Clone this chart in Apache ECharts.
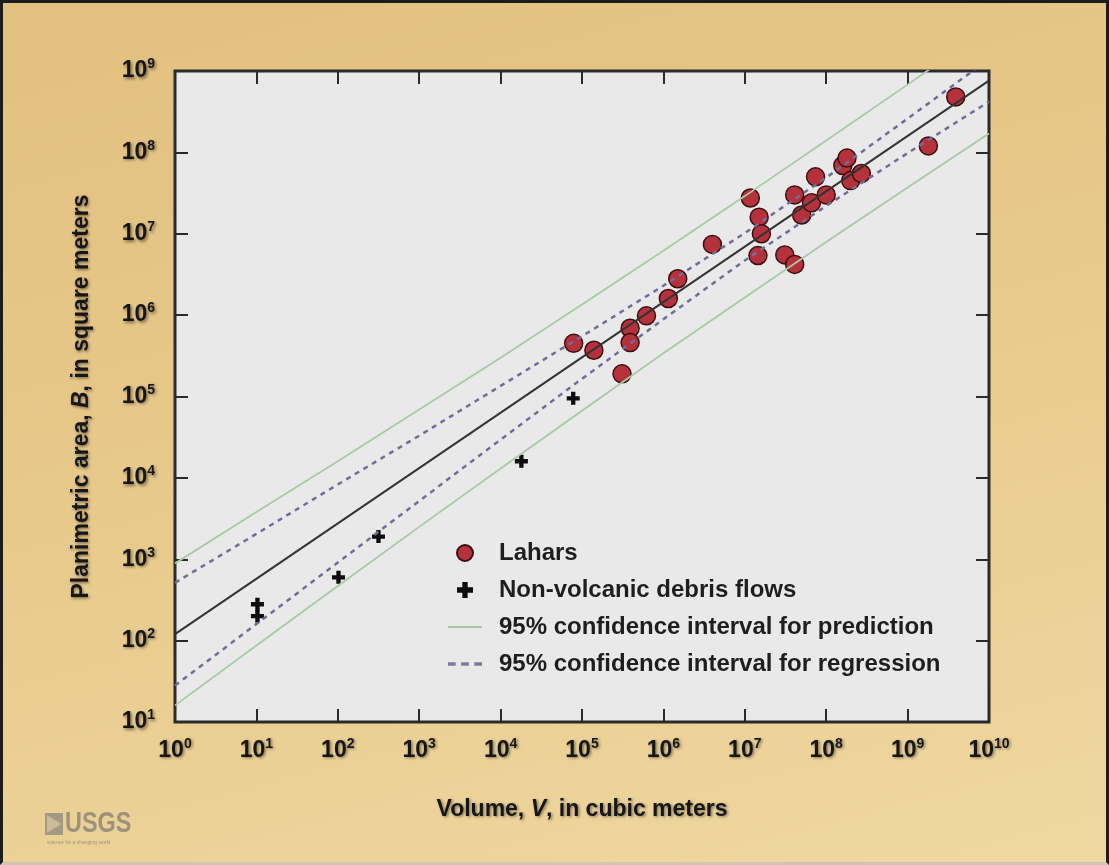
<!DOCTYPE html>
<html>
<head>
<meta charset="utf-8">
<script src="https://cdn.jsdelivr.net/npm/echarts@6/dist/echarts.min.js"></script>
<style>
    html, body { margin: 0; padding: 0; }
    #frame {
        width: 1109px;
        height: 865px;
        box-sizing: border-box;
        border: 3px solid #1c1c1c;
        border-bottom-color: #cfc6b4;
        background: linear-gradient(165deg, #e2c07f 0%, #e7c98b 45%, #f0d8a1 100%);
    }
    #chart { width: 100%; height: 100%; }
</style>
</head>
<body>
<div id="frame"><div id="chart"></div></div>
<script>
// Lahars: [volume V (m3), planimetric area B (m2)]
const lahars = [
    [7.9e4, 4.5e5], [1.4e5, 3.7e5], [3.9e5, 6.9e5], [3.9e5, 4.6e5], [3.1e5, 1.9e5],
    [6.2e5, 9.8e5], [1.15e6, 1.6e6], [1.5e6, 2.8e6], [4.0e6, 7.4e6], [1.17e7, 2.75e7],
    [1.5e7, 1.6e7], [1.6e7, 1.0e7], [1.45e7, 5.4e6], [3.1e7, 5.5e6], [4.1e7, 4.2e6],
    [4.1e7, 3.0e7], [5.0e7, 1.7e7], [6.6e7, 2.4e7], [7.4e7, 5.0e7], [1.0e8, 3.0e7],
    [1.6e8, 6.9e7], [1.8e8, 8.5e7], [2.0e8, 4.5e7], [2.7e8, 5.5e7], [1.8e9, 1.2e8],
    [3.9e9, 4.8e8]
];

// Non-volcanic debris flows
const debrisFlows = [
    [10.3, 280], [10.3, 200], [102, 600], [316, 1900], [1.8e4, 1.6e4], [7.8e4, 9.5e4]
];

// regression line end points
const fitLine = [[1, 120], [1e10, 7.6e8]];

// band curves read at every decade of V
const decades = [1, 1e1, 1e2, 1e3, 1e4, 1e5, 1e6, 1e7, 1e8, 1e9, 1e10];
const predUpper = [890, 3800, 1.6e4, 6.9e4, 3.0e5, 1.35e6, 6.2e6, 2.9e7, 1.4e8, 6.8e8, 3.4e9];
const predLower = [16, 87, 470, 2500, 1.3e4, 6.7e4, 3.4e5, 1.65e6, 7.9e6, 3.7e7, 1.7e8];
const regUpper = [515, 2050, 8300, 3.3e4, 1.35e5, 5.5e5, 2.3e6, 1.02e7, 4.9e7, 2.6e8, 1.4e9];
const regLower = [28, 160, 910, 5200, 2.95e4, 1.65e5, 8.9e5, 4.7e6, 2.2e7, 9.8e7, 4.2e8];

const NAME_PRED = "95% confidence interval for prediction";
const NAME_REG = "95% confidence interval for regression";

const FONT = "'Liberation Sans', Arial, Helvetica, sans-serif";
const shadow = {
    textShadowColor: "rgba(0,0,0,0.45)",
    textShadowBlur: 3,
    textShadowOffsetX: 1.5,
    textShadowOffsetY: 1.5
};

const PLUS = "path://M4,0 H8 V4 H12 V8 H8 V12 H4 V8 H0 V4 H4 Z";

const zip = (xs, ys) => xs.map((x, i) => [x, ys[i]]);

const powLabel = value => "{b|10}{s|" + Math.round(Math.log10(value)) + "}";
const powRich = {
    b: { fontSize: 23, fontWeight: "bold", fontFamily: FONT, color: "#161616", ...shadow },
    s: { fontSize: 14, fontWeight: "bold", fontFamily: FONT, color: "#161616", padding: [0, 0, 13, 0], ...shadow }
};

const nameStyle = {
    fontSize: 23, fontWeight: "bold", fontFamily: FONT, color: "#161616", ...shadow,
    rich: { i: { fontSize: 23, fontWeight: "bold", fontStyle: "italic", fontFamily: FONT, color: "#161616", ...shadow } }
};

const tick = { show: true, inside: true, length: 13, lineStyle: { color: "#2b2b2b", width: 2 } };

const chart = echarts.init(document.getElementById("chart"), null, { renderer: "canvas" });

const option = {
    animation: false,
    grid: {
        left: 172, top: 68, right: 117, bottom: 140,
        show: true,
        backgroundColor: "#e9e9e9",
        borderColor: "#2b2b2b",
        borderWidth: 3
    },
    xAxis: [
        {
            type: "log", logBase: 10, min: 1, max: 1e10, interval: 1,
            axisLine: { show: false },
            axisTick: tick,
            splitLine: { show: false },
            axisLabel: { formatter: powLabel, rich: powRich, margin: 15 },
            name: "Volume, {i|V}, in cubic meters",
            nameLocation: "middle",
            nameGap: 76,
            nameTextStyle: nameStyle
        },
        {
            type: "log", logBase: 10, min: 1, max: 1e10, interval: 1, position: "top",
            axisLine: { show: false }, axisTick: tick, axisLabel: { show: false }, splitLine: { show: false }
        }
    ],
    yAxis: [
        {
            type: "log", logBase: 10, min: 10, max: 1e9, interval: 1,
            axisLine: { show: false },
            axisTick: tick,
            splitLine: { show: false },
            axisLabel: { formatter: powLabel, rich: powRich, margin: 20 },
            name: "Planimetric area, {i|B}, in square meters",
            nameLocation: "middle",
            nameRotate: 90,
            nameGap: 82,
            nameTextStyle: nameStyle
        },
        {
            type: "log", logBase: 10, min: 10, max: 1e9, interval: 1, position: "right",
            axisLine: { show: false }, axisTick: tick, axisLabel: { show: false }, splitLine: { show: false }
        }
    ],
    legend: {
        data: [
            { name: "Lahars", icon: "circle" },
            { name: "Non-volcanic debris flows", icon: PLUS },
            { name: NAME_PRED, icon: "path://M0,0 H32 V2 H0 Z" },
            { name: NAME_REG, icon: "path://M0,0 H7 V3 H0 Z M12,0 H19 V3 H12 Z M24,0 H31 V3 H24 Z" }
        ],
        orient: "vertical",
        left: 440,
        top: 533,
        itemWidth: 34,
        itemHeight: 16,
        itemGap: 13,
        textStyle: { fontSize: 24, fontWeight: "bold", fontFamily: FONT, color: "#1e1e1e", padding: [0, 0, 0, 12] }
    },
    series: [
        {
            name: NAME_PRED, type: "line", data: zip(decades, predUpper),
            symbol: "none", silent: true,
            lineStyle: { color: "#a7cba4", width: 1.8 }, itemStyle: { color: "#a7cba4" }
        },
        {
            name: NAME_PRED, type: "line", data: zip(decades, predLower),
            symbol: "none", silent: true,
            lineStyle: { color: "#a7cba4", width: 1.8 }, itemStyle: { color: "#a7cba4" }
        },
        {
            name: NAME_REG, type: "line", data: zip(decades, regUpper),
            symbol: "none", silent: true,
            lineStyle: { color: "#6e6e9a", width: 2.5, type: [5, 5] }, itemStyle: { color: "#7a7aa0" }
        },
        {
            name: NAME_REG, type: "line", data: zip(decades, regLower),
            symbol: "none", silent: true,
            lineStyle: { color: "#6e6e9a", width: 2.5, type: [5, 5] }, itemStyle: { color: "#7a7aa0" }
        },
        {
            name: "fit", type: "line", data: fitLine,
            symbol: "none", silent: true,
            lineStyle: { color: "#333333", width: 2 }
        },
        {
            name: "Non-volcanic debris flows", type: "scatter", data: debrisFlows,
            symbol: PLUS,
            symbolSize: 13,
            itemStyle: { color: "#0c0c0c", opacity: 1 }
        },
        {
            name: "Lahars", type: "scatter", data: lahars,
            symbol: "circle", symbolSize: 18,
            itemStyle: { color: "#b5323c", borderColor: "#3c0e10", borderWidth: 1.5, opacity: 1 }
        }
    ],
    graphic: [
        {
            type: "group", left: 42, top: 806,
            children: [
                { type: "rect", shape: { x: 0, y: 4, width: 18, height: 22 }, style: { fill: "#a39a84" } },
                { type: "polygon", shape: { points: [[2, 6], [16, 15], [2, 24]] }, style: { fill: "#c8bd98" } },
                {
                    type: "text", x: 20, y: 0, scaleX: 0.78,
                    style: { text: "USGS", fontSize: 30, fontWeight: "bold", fontFamily: FONT, fill: "#9d937c" }
                },
                {
                    type: "text", x: 2, y: 31,
                    style: { text: "science for a changing world", fontSize: 5, fontFamily: FONT, fill: "#9d937c" }
                }
            ]
        }
    ]
};

chart.setOption(option);
</script>
</body>
</html>
